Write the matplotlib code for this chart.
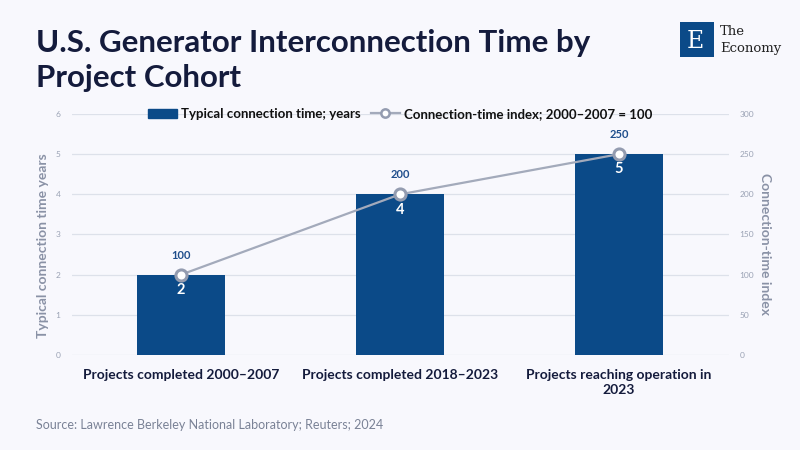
import matplotlib
matplotlib.use('Agg')
import matplotlib.pyplot as plt
import matplotlib.patches as mpatches
from matplotlib.lines import Line2D

# data
cohorts = ['Projects completed 2000–2007', 'Projects completed 2018–2023',
           'Projects reaching operation in\n2023']
years = [2, 4, 5]
index_vals = [100, 200, 250]
left_ticks = [0, 1, 2, 3, 4, 5, 6]
right_ticks = [0, 50, 100, 150, 200, 250, 300]

BG = '#F8F8FD'
BAR = '#0B4A88'
LINE = '#A3AABB'
NAVY = '#141B3C'
GREY = '#8A92A6'

plt.rcParams['font.family'] = ['Lato', 'DejaVu Sans']

fig = plt.figure(figsize=(8, 4.5), dpi=100)
fig.patch.set_facecolor(BG)
ax = fig.add_axes([0.0894, 0.2111, 0.8213, 0.5356])
ax.set_facecolor(BG)
ax2 = ax.twinx()

x = list(range(len(cohorts)))
ax.bar(x, years, width=0.4, color=BAR, zorder=2)
ax.set_xlim(-0.5, 2.5)
ax.set_ylim(0, 6)
ax.set_yticks(left_ticks)
ax.grid(axis='y', color='#DDE1EA', linewidth=0.9, zorder=0)
ax.set_axisbelow(True)
ax.set_xticks(x)
ax.set_xticklabels(cohorts, fontsize=10, fontweight='bold', color=NAVY,
                   linespacing=1.35)
ax.tick_params(axis='x', length=0, pad=10)
ax.tick_params(axis='y', length=0, labelsize=6, labelcolor='#9AA2B4', pad=8)
ax.set_ylabel('Typical connection time years', fontsize=10, color=GREY,
              fontweight='bold')
ax.yaxis.set_label_coords(-0.035, 0.455)

ax2.plot(x, index_vals, color=LINE, linewidth=1.6, marker='o', markersize=8,
         markerfacecolor='white', markeredgecolor='#949CB0', markeredgewidth=2.2,
         zorder=5)
ax2.set_ylim(0, 300)
ax2.set_yticks(right_ticks)
ax2.tick_params(axis='y', length=0, labelsize=6, labelcolor='#9AA2B4', pad=8)
ax2.set_ylabel('Connection-time index', fontsize=10, color=GREY,
               fontweight='bold', rotation=270, va='bottom')
ax2.yaxis.set_label_coords(1.047, 0.46)

for a in (ax, ax2):
    for s in a.spines.values():
        s.set_visible(False)

for xi, v, yv in zip(x, index_vals, years):
    ax2.annotate(str(v), (xi, v), xytext=(0, 10), textcoords='offset points',
                 ha='center', va='bottom', fontsize=8, fontweight='bold', color='#1F4E8C')
    ax2.annotate(str(yv), (xi, v), xytext=(0, -6), textcoords='offset points',
                 ha='center', va='top', fontsize=10.5, fontweight='bold', color='white')

handles = [mpatches.Patch(color=BAR, label='Typical connection time; years'),
           Line2D([0], [0], color=LINE, linewidth=1.6, marker='o', markersize=6,
                  markerfacecolor='white', markeredgecolor='#949CB0', markeredgewidth=1.8,
                  label='Connection-time index; 2000–2007 = 100')]
leg = ax.legend(handles=handles, loc='center', bbox_to_anchor=(0.5, 1.0), ncol=2,
                frameon=False, fontsize=9.5, handlelength=2.2, handleheight=0.7,
                columnspacing=0.8, handletextpad=0.3)
for t in leg.get_texts():
    t.set_fontweight('bold')
    t.set_color('#111111')

fig.text(0.045, 0.865, 'U.S. Generator Interconnection Time by\nProject Cohort',
         fontsize=22.5, fontweight='bold', color=NAVY, ha='left', va='center',
         linespacing=1.3)
fig.text(0.045, 0.055, 'Source: Lawrence Berkeley National Laboratory; Reuters; 2024',
         fontsize=9, color='#7A8296', ha='left', va='center')

# logo
logo = fig.add_axes([0.85, 0.873, 0.043, 0.078])
logo.set_facecolor('#0B4A88')
logo.set_xticks([])
logo.set_yticks([])
for s in logo.spines.values():
    s.set_visible(False)
logo.text(0.45, 0.45, 'E', color='white', fontsize=17, family='DejaVu Serif',
          ha='center', va='center')
fig.text(0.9, 0.93, 'The', fontsize=9.5, family='DejaVu Serif', color='#222222',
         ha='left', va='center')
fig.text(0.9, 0.893, 'Economy', fontsize=9.5, family='DejaVu Serif', color='#222222',
         ha='left', va='center')

fig.savefig('out.png', dpi=100, facecolor=BG)
